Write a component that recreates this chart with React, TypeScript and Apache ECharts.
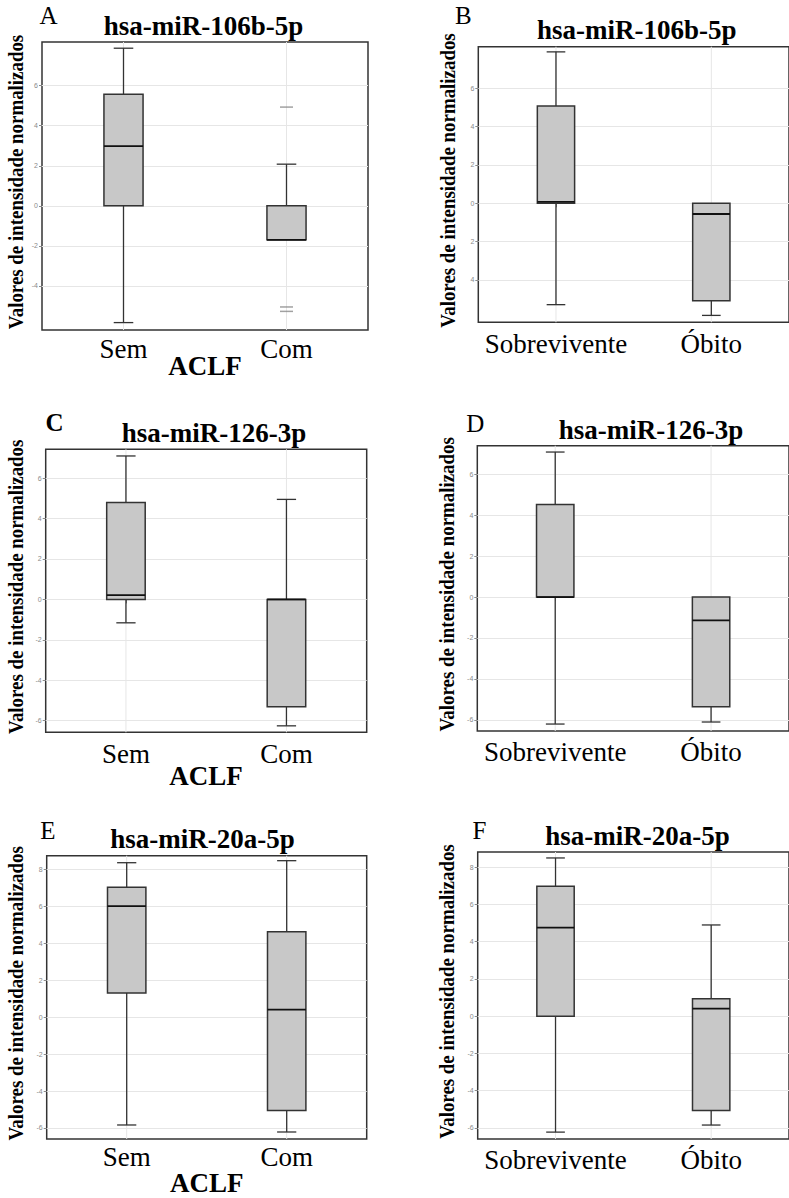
import React, { useEffect, useRef } from 'react';
import * as echarts from 'echarts';

// ---------- DATA ----------
const ACLF_CATEGORIES = ['Sem', 'Com'];
const OUTCOME_CATEGORIES = ['Sobrevivente', 'Óbito'];

// each box: [min, Q1, median, Q3, max]
const MIR106B_ACLF = [
  [-5.83, 0, 2.98, 5.57, 7.87],
  [-1.7, -1.7, -1.7, 0, 2.08],
];
const MIR106B_ACLF_OUTLIERS_COM = [4.93, -5.05, -5.27];

const MIR106B_OUTCOME = [
  [-5.29, 0, 0.07, 5.08, 7.9],
  [-5.85, -5.08, -0.56, 0, 0],
];

const MIR126_ACLF = [
  [-1.16, 0, 0.21, 4.8, 7.1],
  [-6.26, -5.32, 0, 0, 4.95],
];

const MIR126_OUTCOME = [
  [-6.21, 0, 0, 4.53, 7.09],
  [-6.11, -5.36, -1.14, 0, 0],
];

const MIR20A_ACLF = [
  [-5.84, 1.32, 6.03, 7.05, 8.38],
  [-6.22, -5.06, 0.41, 4.64, 8.49],
];

const MIR20A_OUTCOME = [
  [-6.23, 0, 4.76, 6.98, 8.5],
  [-5.85, -5.07, 0.41, 0.93, 4.9],
];

const TICKS_A = [-4, -2, 0, 2, 4, 6];
const TICK_LABELS_A = ['-4', '-2', '0', '2', '4', '6'];
const TICKS_B = [-4, -2, 0, 2, 4, 6];
const TICK_LABELS_B = ['4', '2', '0', '2', '4', '6'];
const TICKS_CD = [-6, -4, -2, 0, 2, 4, 6];
const TICK_LABELS_CD = ['-6', '-4', '-2', '0', '2', '4', '6'];
const TICKS_EF = [-6, -4, -2, 0, 2, 4, 6, 8];
const TICK_LABELS_EF = ['-6', '-4', '-2', '0', '2', '4', '6', '8'];

const Y_RANGE_A = [-6.2, 8.18];
const Y_RANGE_B = [-6.21, 8.17];
const Y_RANGE_C = [-6.58, 7.43];
const Y_RANGE_D = [-6.55, 7.4];
const Y_RANGE_E = [-6.6, 8.76];
const Y_RANGE_F = [-6.6, 8.82];

const TITLES = ['hsa-miR-106b-5p', 'hsa-miR-106b-5p', 'hsa-miR-126-3p', 'hsa-miR-126-3p', 'hsa-miR-20a-5p', 'hsa-miR-20a-5p'];
const LETTERS = ['A', 'B', 'C', 'D', 'E', 'F'];
const Y_LABEL = 'Valores de intensidade normalizados';
const X_NAME = 'ACLF';

// ---------- LAYOUT ----------
const LAYOUT = [
  { left: 42, top: 42, width: 326, height: 288, title: [203.5, 25.5], letter: [48.5, 15], letterBold: false, ylab: 15.5, xname: [205, 366], labMargin: 3 },
  { left: 478.3, top: 46.7, width: 318, height: 275.6, title: [636.7, 30], letter: [463.3, 15.5], letterBold: false, ylab: 447.5, xname: null, labMargin: 6 },
  { left: 45.7, top: 449.3, width: 321, height: 283, title: [214, 432.5], letter: [54.5, 422.5], letterBold: true, ylab: 15.5, xname: [206, 775.5], labMargin: 6 },
  { left: 477.3, top: 445.7, width: 318, height: 285.3, title: [651, 430], letter: [475.3, 423], letterBold: false, ylab: 446.5, xname: null, labMargin: 5 },
  { left: 46.7, top: 855.7, width: 320, height: 283.3, title: [202.5, 839], letter: [48, 830], letterBold: false, ylab: 15.5, xname: [206.7, 1182.5], labMargin: 2 },
  { left: 477.7, top: 852, width: 318, height: 287, title: [637.5, 835.5], letter: [479.5, 830], letterBold: false, ylab: 446.5, xname: null, labMargin: 5 },
];

const BOX_FILL = '#c8c8c8';
const DARK = '#333333';
const GRID_LINE = '#e6e6e6';
const BOX_RATIO = 0.24;

type PanelDef = {
  categories: string[];
  boxes: number[][];
  ticks: number[];
  tickLabels: string[];
  range: number[];
  outliers?: { cat: number; values: number[] };
};

const PANELS: PanelDef[] = [
  { categories: ACLF_CATEGORIES, boxes: MIR106B_ACLF, ticks: TICKS_A, tickLabels: TICK_LABELS_A, range: Y_RANGE_A, outliers: { cat: 1, values: MIR106B_ACLF_OUTLIERS_COM } },
  { categories: OUTCOME_CATEGORIES, boxes: MIR106B_OUTCOME, ticks: TICKS_B, tickLabels: TICK_LABELS_B, range: Y_RANGE_B },
  { categories: ACLF_CATEGORIES, boxes: MIR126_ACLF, ticks: TICKS_CD, tickLabels: TICK_LABELS_CD, range: Y_RANGE_C },
  { categories: OUTCOME_CATEGORIES, boxes: MIR126_OUTCOME, ticks: TICKS_CD, tickLabels: TICK_LABELS_CD, range: Y_RANGE_D },
  { categories: ACLF_CATEGORIES, boxes: MIR20A_ACLF, ticks: TICKS_EF, tickLabels: TICK_LABELS_EF, range: Y_RANGE_E },
  { categories: OUTCOME_CATEGORIES, boxes: MIR20A_OUTCOME, ticks: TICKS_EF, tickLabels: TICK_LABELS_EF, range: Y_RANGE_F },
];

function renderBox(params: any, api: any) {
  const ci = api.value(0);
  const mn = api.value(1);
  const q1 = api.value(2);
  const md = api.value(3);
  const q3 = api.value(4);
  const mx = api.value(5);
  const band = api.size([1, 0])[0];
  const half = (band * BOX_RATIO) / 2;
  const cap = half / 2;
  const pMin = api.coord([ci, mn]);
  const pQ1 = api.coord([ci, q1]);
  const pMed = api.coord([ci, md]);
  const pQ3 = api.coord([ci, q3]);
  const pMax = api.coord([ci, mx]);
  const cx = pMed[0];
  const cs = params.coordSys;
  const wStyle = { stroke: DARK, lineWidth: 1.3 };
  const children: any[] = [
    { type: 'line', shape: { x1: cx, y1: cs.y, x2: cx, y2: cs.y + cs.height }, style: { stroke: GRID_LINE, lineWidth: 1 } },
  ];
  if (mx > q3) {
    children.push({ type: 'line', shape: { x1: cx, y1: pQ3[1], x2: cx, y2: pMax[1] }, style: wStyle });
    children.push({ type: 'line', shape: { x1: cx - cap, y1: pMax[1], x2: cx + cap, y2: pMax[1] }, style: wStyle });
  }
  if (mn < q1) {
    children.push({ type: 'line', shape: { x1: cx, y1: pQ1[1], x2: cx, y2: pMin[1] }, style: wStyle });
    children.push({ type: 'line', shape: { x1: cx - cap, y1: pMin[1], x2: cx + cap, y2: pMin[1] }, style: wStyle });
  }
  children.push({
    type: 'rect',
    shape: { x: cx - half, y: pQ3[1], width: half * 2, height: pQ1[1] - pQ3[1] },
    style: { fill: BOX_FILL, stroke: DARK, lineWidth: 1.5 },
  });
  children.push({ type: 'line', shape: { x1: cx - half, y1: pMed[1], x2: cx + half, y2: pMed[1] }, style: { stroke: '#111', lineWidth: 1.8 } });
  return { type: 'group', children };
}

function buildOption() {
  const grid: any[] = [];
  const xAxis: any[] = [];
  const yAxis: any[] = [];
  const series: any[] = [];
  const graphic: any[] = [];

  PANELS.forEach((p, i) => {
    const L = LAYOUT[i];
    grid.push({ left: L.left, top: L.top, width: L.width, height: L.height, show: true, borderColor: DARK, borderWidth: 1.5, backgroundColor: 'transparent' });
    xAxis.push({
      gridIndex: i,
      type: 'category',
      data: p.categories,
      boundaryGap: true,
      axisLine: { show: false },
      axisTick: { show: true, alignWithLabel: true, interval: 0, length: 4, lineStyle: { color: DARK, width: 1 } },
      axisLabel: { interval: 0, hideOverlap: false, fontFamily: 'Liberation Serif', fontSize: 27, color: '#000', margin: L.labMargin + 2 },
      splitLine: { show: false },
    });
    yAxis.push({
      gridIndex: i,
      type: 'value',
      min: p.range[0],
      max: p.range[1],
      axisLine: { show: false },
      axisTick: { show: true, length: 3, customValues: p.ticks, lineStyle: { color: '#8a8a8a', width: 1 } },
      axisLabel: {
        show: true,
        customValues: p.ticks,
        fontFamily: 'Liberation Sans',
        fontSize: 7,
        color: '#8a8a8a',
        margin: 4,
        formatter: (v: number) => {
          const k = p.ticks.indexOf(Math.round(v));
          return k >= 0 ? p.tickLabels[k] : '';
        },
      },
      splitLine: { show: true, customValues: p.ticks, lineStyle: { color: GRID_LINE, width: 1 } },
    });
    series.push({
      type: 'custom',
      xAxisIndex: i,
      yAxisIndex: i,
      renderItem: renderBox,
      encode: { x: 0, y: [1, 2, 3, 4, 5] },
      data: p.boxes.map((b, ci) => [ci, ...b]),
      z: 2,
    });
    if (p.outliers) {
      series.push({
        type: 'scatter',
        xAxisIndex: i,
        yAxisIndex: i,
        symbol: 'rect',
        symbolSize: [13, 1.5],
        itemStyle: { color: '#8a8a8a' },
        data: p.outliers.values.map((v) => [p.outliers!.cat, v]),
        z: 3,
      });
    }
    graphic.push({
      type: 'text',
      x: L.title[0],
      y: L.title[1],
      style: { text: TITLES[i], fontFamily: 'Liberation Serif', fontWeight: 'bold', fontSize: 27, fill: '#000', align: 'center', verticalAlign: 'middle' },
    });
    graphic.push({
      type: 'text',
      x: L.letter[0],
      y: L.letter[1],
      style: { text: LETTERS[i], fontFamily: 'Liberation Serif', fontWeight: L.letterBold ? 'bold' : 'normal', fontSize: 25, fill: '#000', align: 'center', verticalAlign: 'middle' },
    });
    graphic.push({
      type: 'text',
      x: L.ylab,
      y: L.top + L.height / 2 - 4,
      rotation: Math.PI / 2,
      scaleX: 0.9,
      style: { text: Y_LABEL, fontFamily: 'Liberation Serif', fontWeight: 'bold', fontSize: 21, fill: '#000', align: 'center', verticalAlign: 'middle' },
    });
    if (L.xname) {
      graphic.push({
        type: 'text',
        x: L.xname[0],
        y: L.xname[1],
        style: { text: X_NAME, fontFamily: 'Liberation Serif', fontWeight: 'bold', fontSize: 27, fill: '#000', align: 'center', verticalAlign: 'middle' },
      });
    }
  });

  return { animation: false, backgroundColor: '#fff', grid, xAxis, yAxis, series, graphic };
}

export default function App() {
  const ref = useRef<HTMLDivElement>(null);
  useEffect(() => {
    if (!ref.current) return;
    const chart = echarts.init(ref.current, null, { renderer: 'svg' });
    chart.setOption(buildOption() as any);
    return () => chart.dispose();
  }, []);
  return (
    <div
      ref={ref}
      style={{ position: 'absolute', left: 0, top: 0, width: 789, height: 1198, overflow: 'hidden', background: '#fff' }}
    />
  );
}
